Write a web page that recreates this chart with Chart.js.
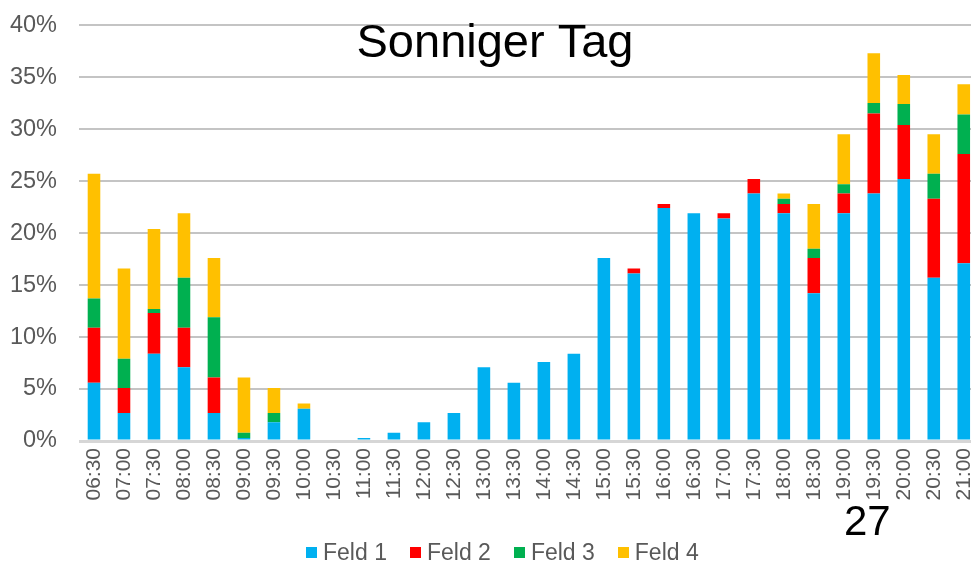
<!DOCTYPE html>
<html>
<head>
<meta charset="utf-8">
<script src="https://cdn.jsdelivr.net/npm/chart.js@4"></script>
<style>
  html, body { margin: 0; padding: 0; background: #fff; overflow: hidden; }
  #wrap { position: relative; width: 971px; height: 570px; overflow: hidden; }
  #wrap canvas { position: absolute; left: 0; top: -11px; }
  #legend {
    position: absolute; left: 306px; top: 539px; height: 26px;
    display: flex; align-items: center;
    font-family: "Liberation Sans", Arial, sans-serif; font-size: 23px; color: #595959;
  }
  #legend .item { display: flex; align-items: center; margin-right: 23px; }
  #legend .box { width: 11px; height: 11px; margin-right: 6px; }
</style>
</head>
<body>
<div id="wrap">
  <canvas id="chart" width="996" height="581"></canvas>
  <div id="legend"></div>
</div>
<script>
const labels = ["06:30","07:00","07:30","08:00","08:30","09:00","09:30","10:00","10:30","11:00",
  "11:30","12:00","12:30","13:00","13:30","14:00","14:30","15:00","15:30","16:00",
  "16:30","17:00","17:30","18:00","18:30","19:00","19:30","20:00","20:30","21:00"];

const feld1 = [5.6, 2.7, 8.4, 7.1, 2.7, 0.3, 1.8, 3.1, 0, 0.3, 0.8, 1.8, 2.7, 7.1, 5.6,
  7.6, 8.4, 17.6, 16.1, 22.4, 21.9, 21.4, 23.8, 21.9, 14.2, 21.9, 23.8, 25.2, 15.7, 17.1];
const feld2 = [5.3, 2.4, 3.9, 3.8, 3.4, 0, 0, 0, 0, 0, 0, 0, 0, 0, 0,
  0, 0, 0, 0.5, 0.4, 0, 0.5, 1.4, 0.9, 3.4, 1.9, 7.7, 5.2, 7.6, 10.5];
const feld3 = [2.8, 2.8, 0.4, 4.8, 5.8, 0.5, 0.9, 0, 0, 0, 0, 0, 0, 0, 0,
  0, 0, 0, 0, 0, 0, 0, 0, 0.5, 0.9, 0.9, 1.0, 2.0, 2.4, 3.8];
const feld4 = [12.0, 8.7, 7.7, 6.2, 5.7, 5.3, 2.4, 0.5, 0, 0, 0, 0, 0, 0, 0,
  0, 0, 0, 0, 0, 0, 0, 0, 0.5, 4.3, 4.8, 4.8, 2.8, 3.8, 2.9];

const seriesNames = ["Feld 1", "Feld 2", "Feld 3", "Feld 4"];
const seriesColors = ["#00B0F0", "#FF0000", "#00B050", "#FFC000"];
const seriesData = [feld1, feld2, feld3, feld4];

const FONT = '"Liberation Sans", Arial, sans-serif';
const SHIFT = 11; // canvas sits 11px above the page top

// title and slide number drawn on top
const overlayText = {
  id: "overlayText",
  afterDraw(chart) {
    const ctx = chart.ctx;
    ctx.save();
    ctx.fillStyle = "#000";
    ctx.textBaseline = "alphabetic";
    ctx.textAlign = "center";
    ctx.font = "47px " + FONT;
    ctx.fillText("Sonniger Tag", 495, 57 + SHIFT);
    ctx.textAlign = "left";
    ctx.font = "42px " + FONT;
    ctx.fillText("27", 844, 535 + SHIFT);
    ctx.restore();
  }
};

const chart = new Chart(document.getElementById("chart"), {
  type: "bar",
  data: {
    labels,
    datasets: seriesData.map((d, i) => ({
      label: seriesNames[i],
      data: d,
      backgroundColor: seriesColors[i],
      borderWidth: 0,
      categoryPercentage: 1,
      barPercentage: 0.42
    }))
  },
  options: {
    responsive: false,
    animation: false,
    layout: { padding: { top: 14, right: 2, left: 0, bottom: 0 } },
    plugins: {
      legend: { display: false },
      tooltip: { enabled: false }
    },
    scales: {
      x: {
        stacked: true,
        grid: { display: false, drawTicks: false },
        border: { display: false },
        ticks: {
          color: "#595959",
          font: { family: FONT, size: 21 },
          minRotation: 90,
          maxRotation: 90,
          autoSkip: false,
          padding: 7
        },
        afterFit(scale) { scale.height = 129; }
      },
      y: {
        stacked: true,
        min: 0,
        max: 40,
        grid: {
          color: ctx => ctx.tick && ctx.tick.value === 0 ? "#d6d6d6" : "#c4c4c4",
          lineWidth: ctx => ctx.tick && ctx.tick.value === 0 ? 3 : 2,
          drawTicks: false
        },
        border: { display: false },
        ticks: {
          stepSize: 5,
          color: "#595959",
          font: { family: FONT, size: 23.5 },
          padding: 22,
          callback: v => v + "%"
        },
        afterFit(scale) { scale.width = 79; }
      }
    }
  },
  plugins: [overlayText]
});

// legend
const legend = document.getElementById("legend");
legend.innerHTML = chart.data.datasets.map(ds => `
  <div class="item"><div class="box" style="background:${ds.backgroundColor}"></div>${ds.label}</div>
`).join("");
</script>
</body>
</html>
